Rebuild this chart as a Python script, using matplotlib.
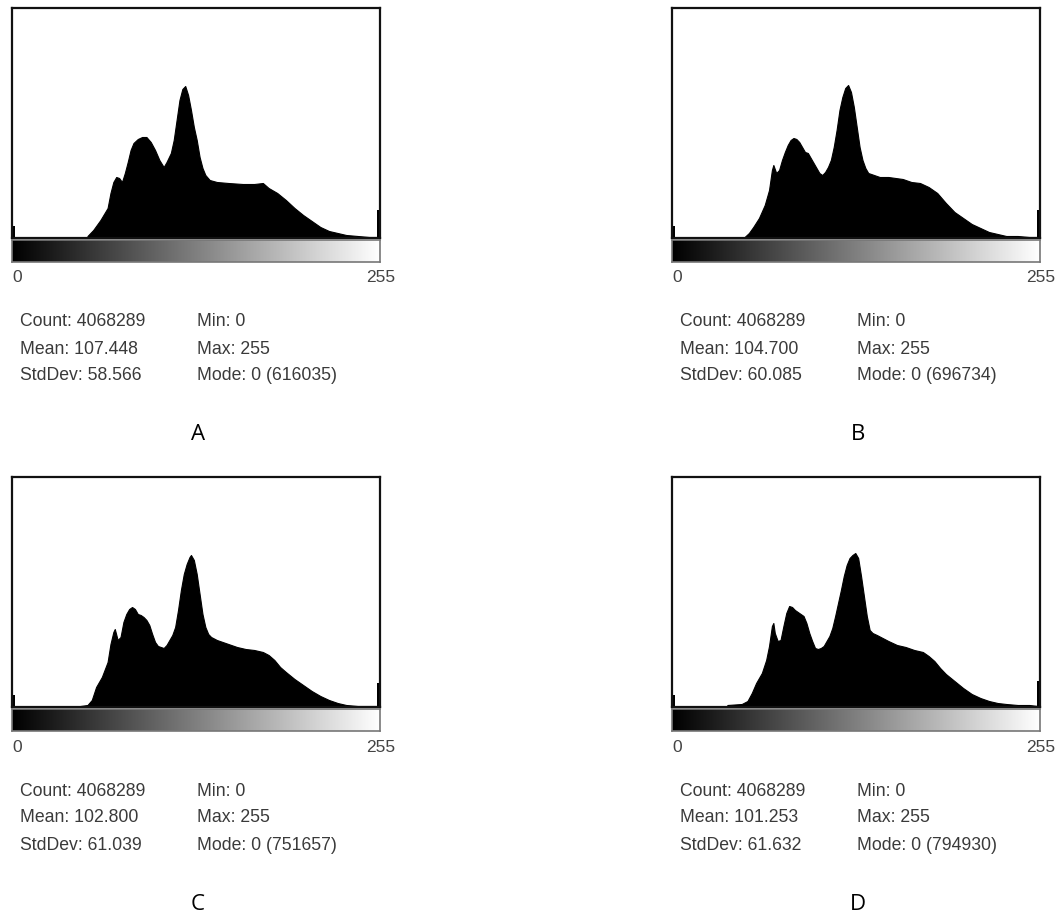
import numpy as np
import matplotlib.pyplot as plt

W, H = 1057, 918

# histogram outlines: grey level -> bar height (box height = 230)
levels_a = [52, 56, 61, 66, 68, 70, 72, 74, 76, 78, 80, 82, 84, 87, 90, 93, 96, 99, 102, 105,
            107, 110, 112, 114, 116, 118, 120, 122, 124, 126, 128, 130, 132, 134, 137, 142, 150,
            160, 168, 174, 178, 184, 190, 196, 202, 208, 214, 220, 226, 232, 240, 248, 254]
heights_a = [2, 8, 18, 30, 45, 56, 61, 60, 56, 65, 76, 88, 95, 99, 101, 101, 96, 88, 78, 71,
             76, 85, 98, 118, 138, 149, 152, 143, 128, 111, 98, 81, 70, 63, 58, 56, 55,
             54, 54, 55, 50, 45, 38, 30, 23, 17, 11, 7, 5, 3, 2, 1, 1]

levels_b = [50, 53, 56, 60, 64, 67, 69, 70, 72, 74, 76, 78, 80, 82, 84, 86, 88, 90, 92, 94, 96,
            98, 100, 102, 104, 106, 108, 110, 112, 114, 116, 118, 120, 122, 124, 126, 128, 130,
            132, 134, 136, 140, 144, 150, 160, 166, 172, 178, 184, 190, 196, 202, 208, 214, 220,
            226, 232, 240, 248, 254]
heights_b = [1, 5, 11, 20, 33, 48, 68, 73, 65, 68, 78, 86, 93, 98, 100, 99, 96, 91, 86, 85, 80,
             75, 70, 65, 63, 66, 71, 78, 91, 108, 128, 141, 150, 153, 146, 131, 111, 91,
             78, 70, 65, 63, 61, 61, 59, 56, 55, 51, 45, 35, 26, 20, 14, 10, 6,
             4, 2, 2, 1, 1]

levels_c = [47, 52, 55, 58, 62, 66, 68, 70, 71, 73, 75, 77, 79, 81, 83, 85, 87, 89, 91, 93, 95,
            97, 99, 101, 103, 105, 107, 109, 111, 113, 115, 117, 119, 121, 123, 124, 126, 128,
            130, 132, 134, 136, 138, 142, 146, 150, 156, 162, 168, 174, 178, 182, 186, 190, 196,
            202, 208, 214, 220, 226, 232, 240, 248, 254]
heights_c = [1, 2, 7, 20, 30, 45, 63, 75, 78, 67, 70, 85, 93, 98, 100, 98, 93, 92, 90, 87, 82,
             73, 65, 61, 60, 59, 62, 67, 72, 80, 97, 117, 133, 143, 150, 152, 147, 133,
             113, 93, 80, 73, 70, 67, 65, 63, 60, 58, 57, 55, 52, 47, 40, 35, 28,
             22, 16, 11, 7, 4, 2, 1, 1, 1]

levels_d = [38, 48, 52, 55, 58, 62, 65, 67, 69, 70, 71, 73, 75, 77, 79, 81, 83, 85, 87, 89, 91,
            93, 95, 97, 99, 101, 103, 105, 107, 109, 111, 113, 115, 117, 119, 121, 123, 125, 127,
            129, 131, 133, 135, 137, 139, 142, 146, 150, 156, 162, 168, 174, 178, 182, 186, 190,
            196, 202, 208, 214, 220, 226, 232, 240, 248, 254]
heights_d = [2, 3, 6, 14, 24, 34, 47, 61, 81, 84, 74, 66, 67, 81, 94, 101, 100, 97, 95, 93, 91,
             84, 74, 66, 59, 58, 59, 61, 66, 71, 79, 91, 104, 117, 131, 142, 149, 152, 154,
             149, 131, 111, 91, 77, 74, 72, 69, 66, 62, 60, 57, 55, 51, 46, 39, 33,
             26, 19, 13, 9, 6, 4, 3, 2, 2, 1]

spike_0 = [12, 12, 12, 12]      # count at level 0 (clipped)
spike_255 = [28, 28, 24, 26]    # count at level 255

letters = ['A', 'B', 'C', 'D']
count = [4068289, 4068289, 4068289, 4068289]
means = ['107.448', '104.700', '102.800', '101.253']
stds = ['58.566', '60.085', '61.039', '61.632']
mins = [0, 0, 0, 0]
maxs = [255, 255, 255, 255]
modes = [616035, 696734, 751657, 794930]

levels = [levels_a, levels_b, levels_c, levels_d]
heights = [heights_a, heights_b, heights_c, heights_d]

narrow = ['Liberation Sans', 'DejaVu Sans']

fig = plt.figure(figsize=(W / 100, H / 100), dpi=100)


def box(x0, y0, w, h):
    # pixel box (top-left origin) -> axes
    return fig.add_axes([x0 / W, 1 - (y0 + h) / H, w / W, h / H])


def px(x, y):
    return x / W, 1 - y / H


for i in range(4):
    dx = 0 if i % 2 == 0 else 660
    dy = 0 if i < 2 else 469

    ax = box(12 + dx, 8 + dy, 368, 230)
    ax.fill_between(levels[i], heights[i], 0, color='black', lw=0.8, edgecolor='black')
    ax.bar([0.8, 254.2], [spike_0[i], spike_255[i]], width=1.2, color='black')
    ax.set_xlim(-0.5, 255.5)
    ax.set_ylim(0, 230)
    ax.set_xticks([])
    ax.set_yticks([])
    for s in ax.spines.values():
        s.set_linewidth(1.6)
        s.set_color('#111111')

    gx = box(12 + dx, 240 + dy, 368, 22)
    gx.imshow(np.linspace(0, 1, 256)[None, :], cmap='gray', aspect='auto',
              extent=(0, 255, 0, 1))
    gx.set_xticks([])
    gx.set_yticks([])
    for s in gx.spines.values():
        s.set_linewidth(1.2)
        s.set_color('#777777')

    fig.text(*px(12 + dx, 278 + dy), '0', family=narrow, fontsize=12.5, color='#444444',
             ha='left', va='center')
    fig.text(*px(395 + dx, 278 + dy), '255', family=narrow, fontsize=12.5, color='#444444',
             ha='right', va='center')

    left = [f'Count: {count[i]}', f'Mean: {means[i]}', f'StdDev: {stds[i]}']
    right = [f'Min: {mins[i]}', f'Max: {maxs[i]}', f'Mode: {mins[i]} ({modes[i]})']
    for r in range(3):
        yy = 322 + 27 * r + dy
        fig.text(*px(20 + dx, yy), left[r], family=narrow, fontsize=12.7, color='#3a3a3a',
                 ha='left', va='center')
        fig.text(*px(197 + dx, yy), right[r], family=narrow, fontsize=12.7, color='#3a3a3a',
                 ha='left', va='center')

    fig.text(*px(198 + dx, 435 + dy), letters[i], family=['Open Sans', 'DejaVu Sans'],
             fontsize=16, color='black', ha='center', va='center')

fig.savefig('out.png', dpi=100)
